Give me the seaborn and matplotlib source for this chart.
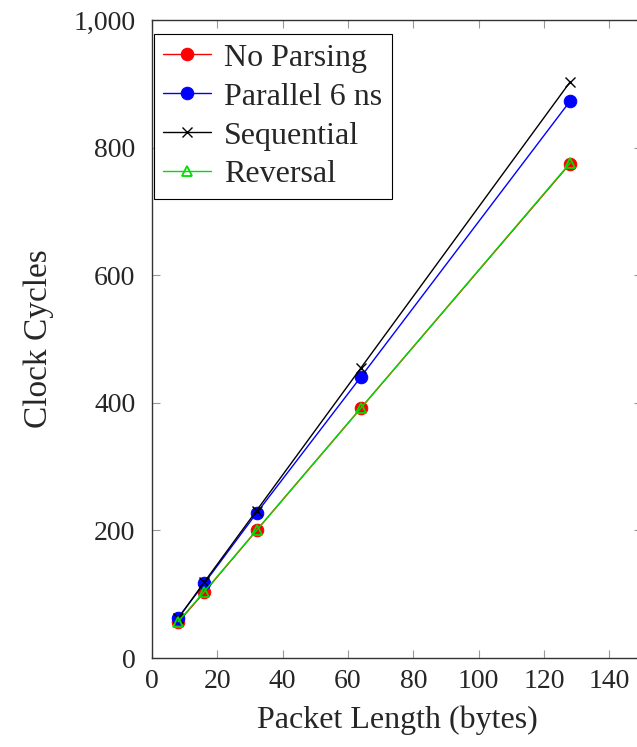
import matplotlib
matplotlib.use("Agg")
import matplotlib.pyplot as plt
import seaborn as sns
import pandas as pd

packet_len = [8, 16, 32, 64, 128]
no_parsing = [56, 103, 200, 392, 775]
parallel_6ns = [63, 117, 227, 441, 873]
sequential = [62, 119, 231, 455, 903]
reversal = [57, 104, 200, 392, 776]

x_ticks = [0, 20, 40, 60, 80, 100, 120, 140]
y_ticks = [0, 200, 400, 600, 800, 1000]
y_tick_labels = ["0", "200", "400", "600", "800", "1,000"]

sns.set_theme(style="ticks")
plt.rcParams['font.family'] = ['Liberation Serif', 'DejaVu Serif']

fig = plt.figure(figsize=(6.37, 7.47), dpi=100)
ax = fig.add_axes([152/637, 89/747, 490/637, 638/747])

series = [
    ("No Parsing", no_parsing, dict(color="red", marker="o", markersize=9,
                                    markerfacecolor="red", markeredgecolor="red")),
    ("Parallel 6 ns", parallel_6ns, dict(color="blue", marker="o", markersize=9,
                                         markerfacecolor="blue", markeredgecolor="blue")),
    ("Sequential", sequential, dict(color="black", marker="x", markersize=6.5,
                                    markeredgecolor="black", markeredgewidth=1.0)),
    ("Reversal", reversal, dict(color="#00dd00", marker="^", markersize=7.5,
                                markerfacecolor="none", markeredgecolor="#00dd00",
                                markeredgewidth=1.3)),
]
for name, vals, style in series:
    df = pd.DataFrame({"x": packet_len, "y": vals})
    sns.lineplot(data=df, x="x", y="y", ax=ax, label=name, linewidth=1.0,
                 dashes=False, **style)

ax.set_xlim(0, 150)
ax.set_ylim(0, 1000)
ax.set_xticks(x_ticks)
ax.set_yticks(y_ticks)
ax.set_yticklabels(y_tick_labels)
ax.tick_params(direction="in", length=6, width=0.8, color="#999999", labelsize=20,
               top=True, right=True)
ax.tick_params(axis="y", pad=12)
ax.tick_params(axis="x", pad=8)
for s in ax.spines.values():
    s.set_linewidth(1.0)
    s.set_color("#333333")
ax.set_xlabel("Packet Length (bytes)", fontsize=23, labelpad=8)
ax.set_ylabel("Clock Cycles", fontsize=24, labelpad=14)

leg = ax.legend(loc="upper left", bbox_to_anchor=(0.0, 0.981), fontsize=23, frameon=True,
                fancybox=False, edgecolor="black", framealpha=1, borderaxespad=0.05,
                handlelength=1.5, handletextpad=0.4, labelspacing=0.3, borderpad=0.3)
leg.get_frame().set_linewidth(0.8)

fig.savefig("out.png", dpi=100)
